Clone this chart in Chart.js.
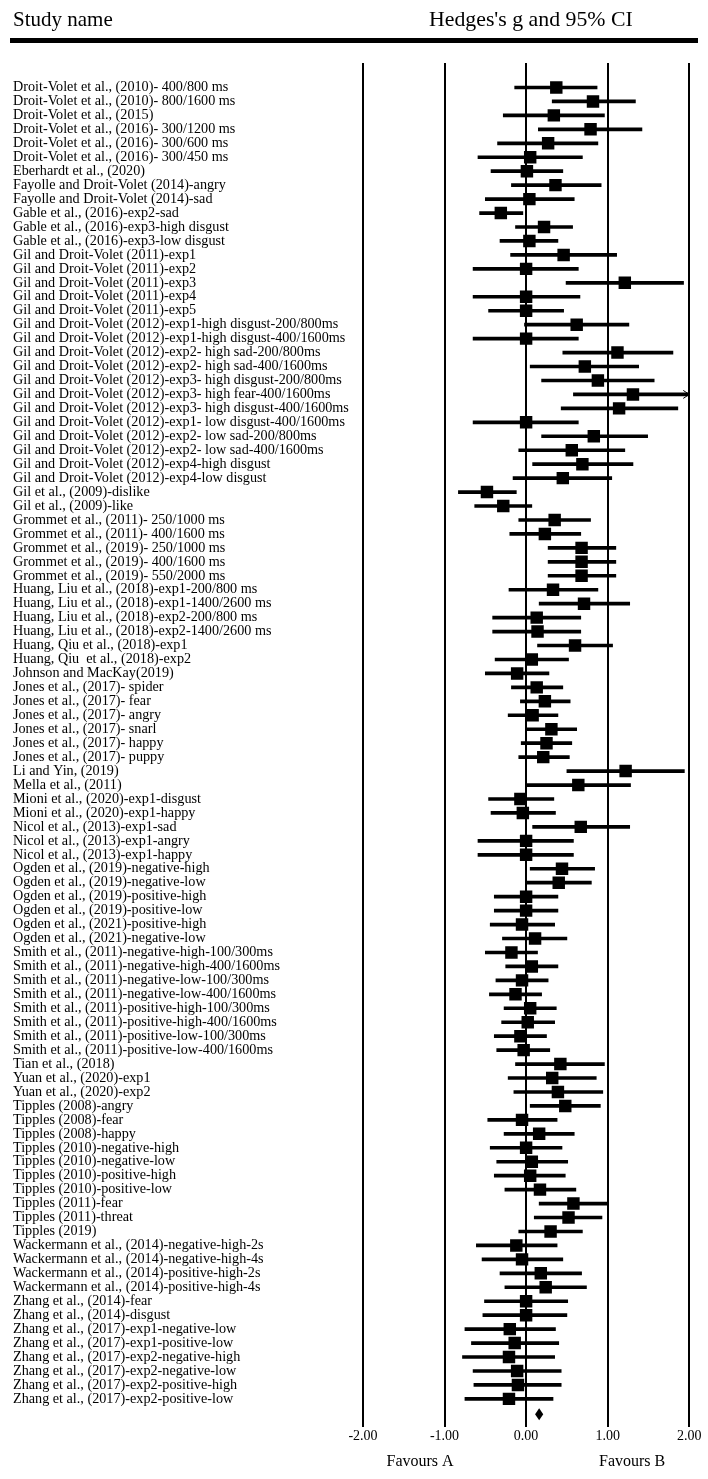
<!DOCTYPE html>
<html><head><meta charset="utf-8">
<script src="https://cdn.jsdelivr.net/npm/chart.js@4.4.0/dist/chart.umd.min.js"></script>
<style>
html,body{margin:0;padding:0;background:#fff;}
#wrap{position:relative;width:708px;height:1479px;overflow:hidden;}
#c{position:absolute;left:0;top:0;}
.hd{position:absolute;font-family:"Liberation Serif","Times New Roman",serif;font-size:21px;color:#000;white-space:nowrap;line-height:1;}
#rule{position:absolute;left:10px;top:38px;width:688px;height:5px;background:#000;}
</style></head><body>
<div id="wrap">
<canvas id="c" width="708" height="1479"></canvas>
<div class="hd" style="left:13px;top:9px">Study name</div>
<div class="hd" style="left:429px;top:9px;font-size:21.8px">Hedges's g and 95% CI</div>
<div id="rule"></div>
</div>
<script>
const studies = [
"Droit-Volet et al., (2010)- 400/800 ms",
"Droit-Volet et al., (2010)- 800/1600 ms",
"Droit-Volet et al., (2015)",
"Droit-Volet et al., (2016)- 300/1200 ms",
"Droit-Volet et al., (2016)- 300/600 ms",
"Droit-Volet et al., (2016)- 300/450 ms",
"Eberhardt et al., (2020)",
"Fayolle and Droit-Volet (2014)-angry",
"Fayolle and Droit-Volet (2014)-sad",
"Gable et al., (2016)-exp2-sad",
"Gable et al., (2016)-exp3-high disgust",
"Gable et al., (2016)-exp3-low disgust",
"Gil and Droit-Volet (2011)-exp1",
"Gil and Droit-Volet (2011)-exp2",
"Gil and Droit-Volet (2011)-exp3",
"Gil and Droit-Volet (2011)-exp4",
"Gil and Droit-Volet (2011)-exp5",
"Gil and Droit-Volet (2012)-exp1-high disgust-200/800ms",
"Gil and Droit-Volet (2012)-exp1-high disgust-400/1600ms",
"Gil and Droit-Volet (2012)-exp2- high sad-200/800ms",
"Gil and Droit-Volet (2012)-exp2- high sad-400/1600ms",
"Gil and Droit-Volet (2012)-exp3- high disgust-200/800ms",
"Gil and Droit-Volet (2012)-exp3- high fear-400/1600ms",
"Gil and Droit-Volet (2012)-exp3- high disgust-400/1600ms",
"Gil and Droit-Volet (2012)-exp1- low disgust-400/1600ms",
"Gil and Droit-Volet (2012)-exp2- low sad-200/800ms",
"Gil and Droit-Volet (2012)-exp2- low sad-400/1600ms",
"Gil and Droit-Volet (2012)-exp4-high disgust",
"Gil and Droit-Volet (2012)-exp4-low disgust",
"Gil et al., (2009)-dislike",
"Gil et al., (2009)-like",
"Grommet et al., (2011)- 250/1000 ms",
"Grommet et al., (2011)- 400/1600 ms",
"Grommet et al., (2019)- 250/1000 ms",
"Grommet et al., (2019)- 400/1600 ms",
"Grommet et al., (2019)- 550/2000 ms",
"Huang, Liu et al., (2018)-exp1-200/800 ms",
"Huang, Liu et al., (2018)-exp1-1400/2600 ms",
"Huang, Liu et al., (2018)-exp2-200/800 ms",
"Huang, Liu et al., (2018)-exp2-1400/2600 ms",
"Huang, Qiu et al., (2018)-exp1",
"Huang, Qiu  et al., (2018)-exp2",
"Johnson and MacKay(2019)",
"Jones et al., (2017)- spider",
"Jones et al., (2017)- fear",
"Jones et al., (2017)- angry",
"Jones et al., (2017)- snarl",
"Jones et al., (2017)- happy",
"Jones et al., (2017)- puppy",
"Li and Yin, (2019)",
"Mella et al., (2011)",
"Mioni et al., (2020)-exp1-disgust",
"Mioni et al., (2020)-exp1-happy",
"Nicol et al., (2013)-exp1-sad",
"Nicol et al., (2013)-exp1-angry",
"Nicol et al., (2013)-exp1-happy",
"Ogden et al., (2019)-negative-high",
"Ogden et al., (2019)-negative-low",
"Ogden et al., (2019)-positive-high",
"Ogden et al., (2019)-positive-low",
"Ogden et al., (2021)-positive-high",
"Ogden et al., (2021)-negative-low",
"Smith et al., (2011)-negative-high-100/300ms",
"Smith et al., (2011)-negative-high-400/1600ms",
"Smith et al., (2011)-negative-low-100/300ms",
"Smith et al., (2011)-negative-low-400/1600ms",
"Smith et al., (2011)-positive-high-100/300ms",
"Smith et al., (2011)-positive-high-400/1600ms",
"Smith et al., (2011)-positive-low-100/300ms",
"Smith et al., (2011)-positive-low-400/1600ms",
"Tian et al., (2018)",
"Yuan et al., (2020)-exp1",
"Yuan et al., (2020)-exp2",
"Tipples (2008)-angry",
"Tipples (2008)-fear",
"Tipples (2008)-happy",
"Tipples (2010)-negative-high",
"Tipples (2010)-negative-low",
"Tipples (2010)-positive-high",
"Tipples (2010)-positive-low",
"Tipples (2011)-fear",
"Tipples (2011)-threat",
"Tipples (2019)",
"Wackermann et al., (2014)-negative-high-2s",
"Wackermann et al., (2014)-negative-high-4s",
"Wackermann et al., (2014)-positive-high-2s",
"Wackermann et al., (2014)-positive-high-4s",
"Zhang et al., (2014)-fear",
"Zhang et al., (2014)-disgust",
"Zhang et al., (2017)-exp1-negative-low",
"Zhang et al., (2017)-exp1-positive-low",
"Zhang et al., (2017)-exp2-negative-high",
"Zhang et al., (2017)-exp2-negative-low",
"Zhang et al., (2017)-exp2-positive-high",
"Zhang et al., (2017)-exp2-positive-low"
];
const effect = [0.37,0.82,0.34,0.79,0.27,0.05,0.01,0.36,0.04,-0.31,
0.22,0.04,0.46,0.00,1.21,0.00,0.00,0.62,0.00,1.12,
0.72,0.88,1.31,1.14,0.00,0.83,0.56,0.69,0.45,-0.48,
-0.28,0.35,0.23,0.68,0.68,0.68,0.33,0.71,0.13,0.14,
0.60,0.07,-0.11,0.13,0.23,0.08,0.31,0.25,0.21,1.22,
0.64,-0.07,-0.04,0.67,0.00,0.00,0.44,0.40,0.00,0.00,
-0.05,0.11,-0.18,0.07,-0.05,-0.13,0.05,0.02,-0.07,-0.03,
0.42,0.32,0.39,0.48,-0.05,0.16,0.00,0.07,0.05,0.17,
0.58,0.52,0.30,-0.12,-0.05,0.18,0.24,0.00,0.00,-0.20,
-0.14,-0.21,-0.11,-0.10,-0.21];
const lower = [-0.14,0.32,-0.28,0.15,-0.35,-0.59,-0.43,-0.18,-0.50,-0.57,
-0.13,-0.32,-0.19,-0.65,0.49,-0.65,-0.46,-0.02,-0.65,0.45,
0.05,0.19,0.58,0.43,-0.65,0.19,-0.09,0.08,-0.16,-0.83,
-0.63,-0.09,-0.20,0.27,0.27,0.27,-0.21,0.16,-0.41,-0.41,
0.14,-0.38,-0.50,-0.18,-0.07,-0.22,0.01,-0.06,-0.09,0.50,
0.00,-0.46,-0.43,0.08,-0.59,-0.59,0.05,0.01,-0.39,-0.39,
-0.44,-0.29,-0.50,-0.25,-0.37,-0.45,-0.27,-0.30,-0.39,-0.36,
-0.13,-0.22,-0.15,0.05,-0.47,-0.27,-0.44,-0.36,-0.39,-0.26,
0.16,0.10,-0.09,-0.61,-0.54,-0.32,-0.26,-0.51,-0.53,-0.75,
-0.67,-0.78,-0.65,-0.64,-0.75];
const upper = [0.87,1.34,0.96,1.42,0.88,0.69,0.45,0.92,0.59,-0.04,
0.57,0.39,1.11,0.64,1.93,0.66,0.46,1.26,0.64,1.80,
1.38,1.57,2.05,1.86,0.64,1.49,1.21,1.31,1.05,-0.12,
0.07,0.79,0.67,1.10,1.10,1.10,0.88,1.27,0.67,0.67,
1.06,0.52,0.28,0.45,0.54,0.39,0.62,0.56,0.53,1.94,
1.28,0.34,0.36,1.27,0.58,0.58,0.84,0.80,0.39,0.39,
0.35,0.50,0.14,0.39,0.27,0.19,0.37,0.35,0.25,0.29,
0.96,0.86,0.94,0.91,0.38,0.59,0.44,0.51,0.48,0.61,
1.00,0.93,0.69,0.38,0.45,0.68,0.74,0.51,0.50,0.36,
0.40,0.35,0.43,0.43,0.33];
const summaryEffect = 0.16;
const summaryLower = 0.11;
const summaryUpper = 0.21;
const xTicks = [-2, -1, 0, 1, 2];
const favourLabels = ["Favours A", "Favours B"];
const favourAt = [-1.3, 1.3];

const SERIF = "'Liberation Serif','Times New Roman',serif";
const axisMax = xTicks[xTicks.length - 1];
const summaryRow = studies.length + 0.1;

const extras = {
  id: 'extras',
  afterDatasetsDraw(chart) {
    const ctx = chart.ctx, xs = chart.scales.x, ys = chart.scales.y;
    ctx.save();
    ctx.strokeStyle = '#000'; ctx.lineWidth = 1;
    upper.forEach((u, i) => {
      if (u > axisMax) {
        const x = xs.getPixelForValue(axisMax), y = ys.getPixelForValue(i);
        ctx.beginPath();
        ctx.moveTo(x - 6, y - 4); ctx.lineTo(x, y); ctx.lineTo(x - 6, y + 4);
        ctx.stroke();
      }
    });
    const yd = ys.getPixelForValue(summaryRow);
    ctx.fillStyle = '#000';
    ctx.beginPath();
    ctx.moveTo(xs.getPixelForValue(summaryLower), yd);
    ctx.lineTo(xs.getPixelForValue(summaryEffect), yd - 6);
    ctx.lineTo(xs.getPixelForValue(summaryUpper), yd);
    ctx.lineTo(xs.getPixelForValue(summaryEffect), yd + 6);
    ctx.closePath(); ctx.fill();
    ctx.font = '16px ' + SERIF;
    ctx.textAlign = 'center'; ctx.textBaseline = 'middle';
    favourLabels.forEach((t, k) => ctx.fillText(t, xs.getPixelForValue(favourAt[k]), 1462));
    ctx.restore();
  }
};

new Chart(document.getElementById('c'), {
  data: {
    datasets: [
      {
        type: 'bar',
        data: studies.map((s, i) => ({ x: [lower[i], Math.min(upper[i], axisMax)], y: i })),
        backgroundColor: '#000',
        borderWidth: 0,
        barThickness: 3
      },
      {
        type: 'line',
        data: effect.map((v, i) => ({ x: v, y: i })),
        showLine: false,
        pointStyle: 'rect',
        pointRadius: 8.8,
        pointBackgroundColor: '#000',
        pointBorderWidth: 0
      }
    ]
  },
  options: {
    indexAxis: 'y',
    responsive: false,
    animation: false,
    layout: { padding: { left: 13, right: 8, top: 63, bottom: 0 } },
    plugins: { legend: { display: false }, tooltip: { enabled: false } },
    scales: {
      x: {
        type: 'linear',
        position: 'bottom',
        min: -2.159,
        max: 2.122,
        afterBuildTicks: s => { s.ticks = xTicks.map(v => ({ value: v })); },
        afterFit: s => { s.height = 52; },
        ticks: {
          callback: v => Number(v).toFixed(2),
          font: { family: SERIF, size: 14 },
          color: '#000',
          padding: 1,
          maxRotation: 0,
          autoSkip: false
        },
        grid: { color: '#000', lineWidth: 2, drawTicks: false },
        border: { display: false }
      },
      y: {
        type: 'linear',
        position: 'left',
        reverse: true,
        min: -1.241,
        max: 95.5,
        afterBuildTicks: s => { s.ticks = studies.map((_, i) => ({ value: i })); },
        afterFit: s => { s.width = 337; },
        ticks: {
          callback: v => studies[v],
          font: { family: SERIF, size: 14.2 },
          color: '#000',
          crossAlign: 'far',
          autoSkip: false,
          padding: 0
        },
        grid: { display: false },
        border: { display: false }
      }
    }
  },
  plugins: [extras]
});
</script>
</body></html>
